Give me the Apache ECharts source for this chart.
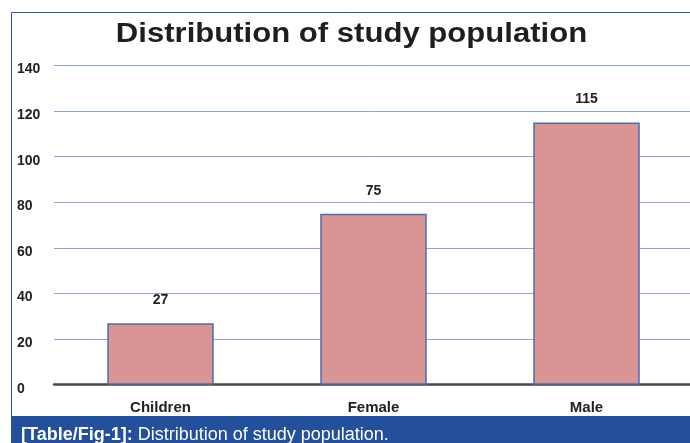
<!DOCTYPE html>
<html>
<head>
<meta charset="utf-8">
<script src="https://cdn.jsdelivr.net/npm/echarts@6/dist/echarts.min.js"></script>
<style>
  html, body { margin: 0; padding: 0; background: #fff; }
  #chart { width: 690px; height: 443px; }
</style>
</head>
<body>
<div id="chart"></div>
<script>
// Study population counts by group
const categories = ['Children', 'Female', 'Male'];
const counts = [27, 75, 115];
const yTicks = [0, 20, 40, 60, 80, 100, 120, 140];

const chartTitle = 'Distribution of study population';
const captionTag = '[Table/Fig-1]:';
const captionText = ' Distribution of study population.';

const frameBlue = '#2c59a6';
const captionBlue = '#234f9b';
const fontStack = 'Liberation Sans, Arial, sans-serif';

const chart = echarts.init(document.getElementById('chart'), null, { renderer: 'canvas' });

chart.setOption({
  backgroundColor: '#ffffff',
  animation: false,
  grid: {
    left: 54,
    right: -3,
    top: 65.5,
    bottom: 58.3,
    outerBoundsMode: 'none'
  },
  xAxis: {
    type: 'category',
    data: categories,
    axisLine: { show: true, lineStyle: { color: '#4a4a4a', width: 2.5 } },
    axisTick: { show: false },
    axisLabel: {
      margin: 16,
      fontFamily: fontStack,
      fontWeight: 'bold',
      fontSize: 15,
      color: '#222222'
    }
  },
  yAxis: {
    type: 'value',
    min: yTicks[0],
    max: yTicks[yTicks.length - 1],
    interval: yTicks[1] - yTicks[0],
    axisLine: { show: false },
    axisTick: { show: false },
    splitLine: { lineStyle: { color: '#8fa5d3', width: 1 } },
    axisLabel: {
      align: 'left',
      verticalAlign: 'top',
      lineHeight: 8,
      margin: 37,
      fontFamily: fontStack,
      fontWeight: 'bold',
      fontSize: 14,
      color: '#222222'
    }
  },
  series: [{
    type: 'bar',
    data: counts,
    barWidth: '50%',
    itemStyle: {
      color: '#d99594',
      borderColor: '#4b6eaa',
      borderWidth: 1.5
    },
    label: {
      show: true,
      position: 'top',
      distance: 16,
      fontFamily: fontStack,
      fontWeight: 'bold',
      fontSize: 14,
      color: '#222222'
    }
  }],
  graphic: [
    // outer frame (left and top edges visible)
    {
      type: 'rect',
      silent: true,
      z: -1,
      shape: { x: 11.5, y: 12.5, width: 700, height: 420 },
      style: { fill: 'none', stroke: frameBlue, lineWidth: 1 }
    },
    // chart title
    {
      type: 'text',
      x: 351.5,
      y: 34,
      scaleX: 1.11,
      style: {
        text: chartTitle,
        x: 0,
        y: 0,
        align: 'center',
        verticalAlign: 'middle',
        fontFamily: fontStack,
        fontWeight: 'bold',
        fontSize: 28,
        fill: '#1e1e1e'
      }
    },
    // caption band
    {
      type: 'rect',
      silent: true,
      shape: { x: 11, y: 416, width: 690, height: 30 },
      style: { fill: captionBlue }
    },
    {
      type: 'text',
      x: 21,
      y: 435,
      style: {
        text: '{b|' + captionTag + '}{r|' + captionText + '}',
        verticalAlign: 'middle',
        rich: {
          b: { fontFamily: fontStack, fontWeight: 'bold', fontSize: 18, fill: '#ffffff' },
          r: { fontFamily: fontStack, fontWeight: 'normal', fontSize: 18, fill: '#ffffff' }
        }
      }
    }
  ]
});
</script>
</body>
</html>
